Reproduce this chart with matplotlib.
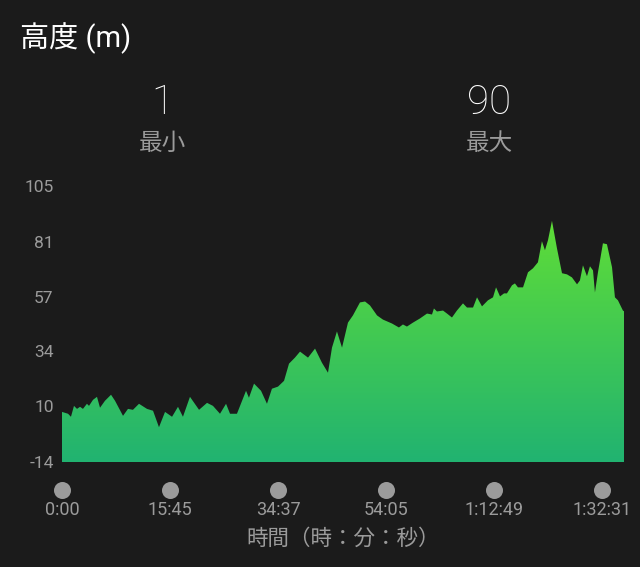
import matplotlib
matplotlib.use("Agg")
import matplotlib.pyplot as plt
import numpy as np
from matplotlib.colors import LinearSegmentedColormap
import matplotlib.transforms as mtransforms

# 高度データ (位置はラベル間隔=1 の単位)
pos = [0.000, 0.056, 0.083, 0.111, 0.139, 0.167, 0.194, 0.231, 0.250, 0.287,
       0.324, 0.352, 0.398, 0.454, 0.491, 0.565, 0.611, 0.657, 0.713, 0.787,
       0.843, 0.898, 0.954, 1.019, 1.074, 1.120, 1.185, 1.269, 1.343, 1.398,
       1.463, 1.519, 1.556, 1.620, 1.704, 1.731, 1.778, 1.843, 1.898, 1.944,
       2.000, 2.056, 2.102, 2.157, 2.204, 2.278, 2.343, 2.407, 2.463, 2.500,
       2.546, 2.593, 2.648, 2.694, 2.759, 2.806, 2.852, 2.917, 2.972, 3.056,
       3.120, 3.157, 3.194, 3.250, 3.315, 3.380, 3.426, 3.444, 3.472, 3.528,
       3.565, 3.611, 3.657, 3.713, 3.750, 3.806, 3.843, 3.889, 3.944, 3.991,
       4.019, 4.056, 4.093, 4.120, 4.167, 4.194, 4.222, 4.269, 4.315, 4.361,
       4.407, 4.444, 4.472, 4.500, 4.537, 4.583, 4.630, 4.676, 4.722, 4.769,
       4.796, 4.824, 4.861, 4.889, 4.917, 4.935, 4.963, 5.009, 5.046, 5.093,
       5.120, 5.148, 5.194, 5.204]
alt = [7.6, 6.8, 5.5, 10.2, 8.9, 9.8, 8.9, 11.1, 10.2, 12.8,
       14.1, 9.4, 12.4, 15.0, 12.4, 5.9, 8.9, 8.5, 11.1, 8.9,
       8.1, 1.0, 7.6, 5.5, 9.8, 5.5, 14.1, 8.5, 11.5, 10.2,
       6.8, 11.1, 6.8, 6.8, 16.7, 13.7, 19.8, 16.7, 11.1, 17.6,
       18.5, 21.0, 28.4, 31.0, 33.6, 31.0, 34.9, 28.8, 24.5, 35.3,
       42.3, 35.3, 46.1, 49.2, 54.8, 55.2, 53.5, 49.2, 47.4, 45.7,
       44.0, 45.3, 44.4, 46.1, 47.9, 50.0, 49.6, 52.2, 50.9, 51.3,
       50.0, 48.3, 51.3, 54.4, 52.6, 52.6, 57.0, 53.1, 55.7, 57.0,
       61.3, 57.4, 58.7, 58.7, 62.2, 63.0, 61.3, 61.3, 67.8, 69.5,
       72.1, 81.2, 77.3, 81.6, 90.0, 78.2, 67.4, 66.9, 65.6, 62.6,
       64.3, 70.8, 66.1, 70.4, 68.6, 59.1, 67.8, 80.3, 79.9, 70.0,
       57.0, 55.7, 51.3, 51.0]

x_labels = ["0:00", "15:45", "34:37", "54:05", "1:12:49", "1:32:31"]
y_ticks = [-14, 10, 34, 57, 81, 105]
alt_min = 1
alt_max = 90

bg = "#1b1b1b"
grey = "#9b9b9b"
fonts = ["Roboto", "Noto Sans CJK JP", "DejaVu Sans"]
plt.rcParams["font.family"] = fonts

fig = plt.figure(figsize=(6.4, 5.67), dpi=100, facecolor=bg)
ax = fig.add_axes([62/640, 105/567, 562/640, 276/567])
ax.set_facecolor(bg)

ymin, ymax = -14, 105
ax.set_xlim(0, pos[-1])
ax.set_ylim(ymin, ymax)

# グラデーション塗り
poly = ax.fill_between(pos, alt, ymin, color="none", lw=0)
cmap = LinearSegmentedColormap.from_list("g", ["#21b371", "#5fdd37"])
grad = np.linspace(0, 1, 256).reshape(-1, 1)
img = ax.imshow(grad, cmap=cmap, aspect="auto", origin="lower",
                extent=[0, pos[-1], ymin, max(alt)], zorder=1)
img.set_clip_path(poly.get_paths()[0], transform=ax.transData)

for s in ax.spines.values():
    s.set_visible(False)

ax.set_yticks(y_ticks)
ax.set_yticklabels([str(t) for t in y_ticks])
ax.tick_params(axis="y", length=0, pad=6, labelsize=12.5, colors=grey)

ax.set_xticks(range(len(x_labels)))
ax.set_xticklabels(x_labels)
ax.tick_params(axis="x", length=0, pad=28, labelsize=13, colors=grey)

# 目盛の丸
trans = mtransforms.blended_transform_factory(ax.transData, ax.transAxes)
ax.scatter(range(len(x_labels)), [-0.101] * len(x_labels), s=150, color=grey,
           transform=trans, clip_on=False, zorder=3, linewidths=0)

ax.set_xlabel("時間（時：分：秒）", color=grey, fontsize=15.5, labelpad=7)

fig.text(20/640, 1 - 38/567, "高度 (m)", color="white", fontsize=21,
         ha="left", va="center")
fig.text(162/640, 1 - 103/567, str(alt_min), color="white", fontsize=29,
         ha="center", va="center", fontweight="light")
fig.text(162/640, 1 - 143/567, "最小", color=grey, fontsize=17,
         ha="center", va="center")
fig.text(489/640, 1 - 103/567, str(alt_max), color="white", fontsize=29,
         ha="center", va="center", fontweight="light")
fig.text(489/640, 1 - 143/567, "最大", color=grey, fontsize=17,
         ha="center", va="center")

fig.savefig("out.png", dpi=100, facecolor=bg)
